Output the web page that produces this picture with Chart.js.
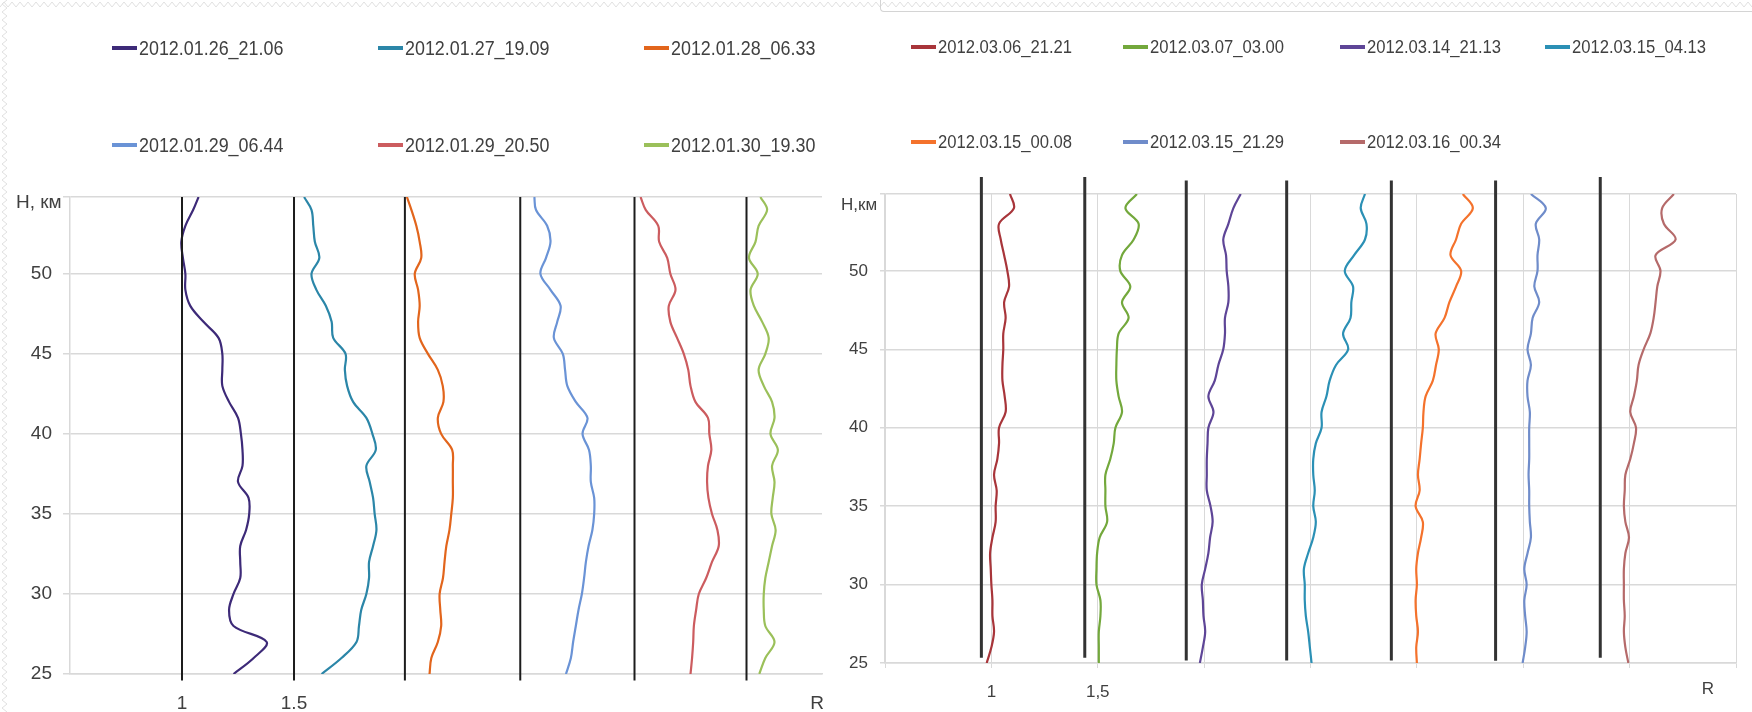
<!DOCTYPE html>
<html>
<head>
<meta charset="utf-8">
<title>R(H) profiles</title>
<script src="https://cdn.jsdelivr.net/npm/chart.js@4.4.1/dist/chart.umd.min.js"></script>
<style>
  html, body { margin: 0; padding: 0; background: #fff; }
  body {
    width: 1752px; height: 712px; position: relative; overflow: hidden;
    font-family: "Liberation Sans", Arial, sans-serif;
    color: #404040;
  }
  .hatch-top {
    position: absolute; left: 0; top: 0; width: 1752px; height: 9px;
    background-image: url("data:image/svg+xml;utf8,<svg xmlns='http://www.w3.org/2000/svg' width='8' height='9'><path d='M0 7 L4 2 L8 7' fill='none' stroke='%23e0e0e0' stroke-width='1'/></svg>");
  }
  .hatch-left {
    position: absolute; left: 0; top: 0; width: 8px; height: 712px;
    background-image: url("data:image/svg+xml;utf8,<svg xmlns='http://www.w3.org/2000/svg' width='8' height='8'><path d='M7 0 L2 4 L7 8' fill='none' stroke='%23e0e0e0' stroke-width='1'/></svg>");
  }
  .frame {
    position: absolute; left: 880px; top: -4px; width: 880px; height: 15px;
    border-left: 1px solid #d4d4d4; border-bottom: 1px solid #d4d4d4;
    border-bottom-left-radius: 4px;
  }
  .wrap { position: absolute; top: 0; }
  .legend { position: absolute; display: grid; }
  .legend .item { display: flex; align-items: center; height: 24px; white-space: nowrap; }
  .legend .sw { display: inline-block; width: 25px; height: 4px; margin-right: 2px; flex: none; }
  .legend .tx { display: inline-block; transform-origin: left center; }
  #legJan { left: 112px; top: 36px; grid-template-columns: 266px 266px 266px; grid-auto-rows: 97px; font-size: 20px; }
  #legJan .tx { transform: scaleX(0.895); }
  #legMar { left: 911px; top: 35px; grid-template-columns: 212px 217px 205px 200px; grid-auto-rows: 95px; font-size: 19px; }
  #legMar .tx { transform: scaleX(0.875); }
</style>
</head>
<body>
<div class="hatch-top"></div>
<div class="hatch-left"></div>
<div class="frame"></div>
<div class="wrap" style="left:0px;"><canvas id="chartJan" width="830" height="712"></canvas></div>
<div class="wrap" style="left:830px;"><canvas id="chartMar" width="922" height="712"></canvas></div>
<div class="legend" id="legJan"></div>
<div class="legend" id="legMar"></div>

<script>
// ---- heights, km ----
const heightsJan = [25,26,27,28,29,30,31,32,33,34,35,36,37,38,39,40,41,42,43,44,45,46,47,48,49,50,51,52,53,54,54.8];
const heightsMar = [25,26,27,28,29,30,31,32,33,34,35,36,37,38,39,40,41,42,43,44,45,46,47,48,49,50,51,52,53,54,54.9];

// ---- January profiles (each shifted right by its own reference line) ----
const jan26_2106 = [1.23,1.32,1.378,1.23,1.21,1.23,1.26,1.26,1.26,1.286,1.30,1.297,1.25,1.27,1.27,1.263,1.25,1.21,1.18,1.18,1.18,1.163,1.096,1.037,1.015,1.015,1.004,0.997,1.015,1.05,1.074];
const jan27_1909 = [1.623,1.712,1.779,1.79,1.80,1.823,1.835,1.835,1.853,1.868,1.86,1.853,1.838,1.823,1.865,1.85,1.823,1.764,1.737,1.727,1.73,1.675,1.668,1.642,1.60,1.578,1.613,1.593,1.586,1.578,1.545];
const jan28_0633 = [2.105,2.113,2.142,2.157,2.153,2.15,2.165,2.172,2.18,2.194,2.202,2.209,2.209,2.209,2.206,2.157,2.142,2.167,2.164,2.142,2.098,2.061,2.054,2.061,2.054,2.039,2.068,2.061,2.046,2.024,2.004];
const jan29_0644 = [2.714,2.736,2.746,2.758,2.77,2.785,2.795,2.803,2.815,2.832,2.84,2.84,2.825,2.825,2.817,2.788,2.81,2.758,2.72,2.71,2.70,2.66,2.675,2.69,2.645,2.60,2.625,2.645,2.63,2.58,2.573];
const jan29_2050 = [3.27,3.277,3.282,3.285,3.295,3.307,3.34,3.366,3.396,3.39,3.366,3.35,3.344,3.348,3.363,3.354,3.348,3.292,3.27,3.26,3.24,3.21,3.18,3.173,3.203,3.18,3.166,3.13,3.126,3.07,3.047];
const jan30_1930 = [3.577,3.604,3.645,3.604,3.597,3.597,3.604,3.619,3.634,3.65,3.631,3.637,3.645,3.634,3.66,3.627,3.645,3.634,3.597,3.574,3.604,3.619,3.59,3.553,3.538,3.57,3.531,3.56,3.574,3.612,3.582];

// ---- March profiles ----
const mar06_2121 = [0.978,1.0,1.0125,1.005,1.005,1.0,0.997,0.994,1.005,1.02,1.02,1.025,1.0125,1.028,1.036,1.036,1.067,1.0625,1.052,1.052,1.056,1.056,1.067,1.06,1.083,1.075,1.06,1.044,1.036,1.106,1.0875];
const mar07_0300 = [1.505,1.505,1.505,1.5125,1.5125,1.494,1.494,1.497,1.509,1.544,1.536,1.536,1.536,1.559,1.575,1.583,1.614,1.598,1.5875,1.5875,1.59,1.598,1.645,1.614,1.653,1.606,1.614,1.669,1.692,1.63,1.684];
const mar14_2113 = [1.98,1.994,2.005,1.997,1.994,1.989,2.005,2.02,2.028,2.04,2.03,2.0125,2.0125,2.0125,2.016,2.02,2.044,2.02,2.05,2.067,2.09,2.098,2.098,2.114,2.114,2.106,2.103,2.09,2.114,2.1375,2.172];
const mar15_0413 = [2.505,2.497,2.489,2.478,2.473,2.473,2.469,2.489,2.513,2.525,2.513,2.52,2.513,2.513,2.525,2.552,2.552,2.575,2.59,2.62,2.677,2.653,2.688,2.692,2.70,2.661,2.705,2.756,2.763,2.736,2.756];
const mar15_0008 = [3.0,2.997,3.005,2.997,2.994,3.0,2.997,3.005,3.02,3.028,2.994,3.013,3.005,3.013,3.02,3.028,3.031,3.041,3.075,3.09,3.103,3.088,3.13,3.153,3.184,3.208,3.158,3.184,3.208,3.263,3.216];
const mar15_2129 = [3.497,3.509,3.516,3.509,3.505,3.516,3.505,3.52,3.536,3.531,3.528,3.528,3.525,3.528,3.528,3.528,3.531,3.52,3.52,3.536,3.52,3.536,3.544,3.575,3.552,3.567,3.567,3.575,3.559,3.606,3.536];
const mar16_0034 = [3.994,3.98,3.973,3.977,3.973,3.973,3.973,3.98,3.997,3.98,3.973,3.977,3.98,4.003,4.02,4.03,4.003,4.02,4.034,4.042,4.066,4.097,4.113,4.122,4.13,4.145,4.122,4.216,4.161,4.153,4.208];

// ---- series labels ----
const janNames = ['2012.01.26_21.06','2012.01.27_19.09','2012.01.28_06.33','2012.01.29_06.44','2012.01.29_20.50','2012.01.30_19.30'];
const marNames = ['2012.03.06_21.21','2012.03.07_03.00','2012.03.14_21.13','2012.03.15_04.13','2012.03.15_00.08','2012.03.15_21.29','2012.03.16_00.34'];
const janSeries = [jan26_2106, jan27_1909, jan28_0633, jan29_0644, jan29_2050, jan30_1930];
const marSeries = [mar06_2121, mar07_0300, mar14_2113, mar15_0413, mar15_0008, mar15_2129, mar16_0034];

// ---- reference (R = 1 per profile) lines ----
const janGuideR = [1, 1.5, 1.995, 2.51, 3.02, 3.52];
const janGuideBottom = [24.6, 24.6, 24.6, 24.6, 24.6, 24.6];
const janGuideTop = [54.8, 54.8, 54.8, 54.8, 54.8, 54.8];
const marGuideR = [0.953, 1.439, 1.916, 2.388, 2.880, 3.370, 3.862];
const marGuideBottom = [25.33, 25.33, 25.16, 25.16, 25.16, 25.14, 25.33];
const marGuideTop = [55.98, 55.98, 55.76, 55.76, 55.76, 55.76, 55.98];

// ---- axis tick labels ----
const janTickLabels = { 1: '1', 1.5: '1.5' };
const marTickLabels = { 1: '1', 1.5: '1,5' };

// ---- styles ----
const janColors = ['#3d2a78', '#2b86a8', '#e2651c', '#6a93d6', '#cc5c5f', '#9bc05a'];
const marColors = ['#a8353a', '#73a83c', '#5e4597', '#2b90b5', '#f4722c', '#6f8cca', '#b56a6a'];
const FONT = '"Liberation Sans", Arial, sans-serif';
const GRID = '#d9d9d9';

Chart.defaults.font.family = FONT;
Chart.defaults.color = '#404040';

function profileDatasets(series, names, colors, heights) {
  return series.map((vals, i) => ({
    label: names[i],
    data: vals.map((r, k) => ({ x: r, y: heights[k] })),
    borderColor: colors[i],
    backgroundColor: colors[i],
    borderWidth: 2.2,
    pointRadius: 0,
    showLine: true,
    tension: 0.35,
    order: 2
  }));
}

function guideDatasets(xs, bottoms, tops, color, width) {
  return xs.map((x, i) => ({
    label: '',
    data: [{ x: x, y: bottoms[i] }, { x: x, y: tops[i] }],
    borderColor: color,
    borderWidth: width,
    pointRadius: 0,
    showLine: true,
    clip: false,
    order: 1
  }));
}

// Axis captions "H, км" and "R" placed at the plot corners
const cornerTitles = {
  id: 'cornerTitles',
  afterDraw(chart, args, o) {
    const a = chart.chartArea, ctx = chart.ctx;
    ctx.save();
    ctx.fillStyle = '#404040';
    ctx.font = o.size + 'px ' + FONT;
    ctx.textBaseline = 'middle';
    ctx.textAlign = 'left';
    ctx.fillText(o.yTitle, a.left + o.yDx, a.top + o.yDy);
    ctx.textAlign = 'center';
    ctx.fillText(o.xTitle, a.right + o.xDx, a.bottom + o.xDy);
    ctx.restore();
  }
};

function makeChart(id, cfg) {
  return new Chart(document.getElementById(id), {
    type: 'scatter',
    data: { datasets: cfg.datasets },
    plugins: [cornerTitles],
    options: {
      responsive: false,
      animation: false,
      devicePixelRatio: 1,
      layout: { padding: cfg.padding },
      plugins: {
        legend: { display: false },
        tooltip: { enabled: false },
        cornerTitles: cfg.titles
      },
      scales: {
        x: {
          type: 'linear',
          min: cfg.xMin, max: cfg.xMax,
          afterFit: s => { s.height = cfg.xAxisHeight; },
          ticks: {
            stepSize: 0.5, autoSkip: false, includeBounds: false, maxRotation: 0,
            padding: cfg.xTickPad,
            font: { size: cfg.tickSize },
            callback: v => cfg.tickLabels[v] || ''
          },
          grid: cfg.xGrid,
          border: { display: true, color: GRID, width: 1.5 }
        },
        y: {
          type: 'linear',
          min: 25, max: cfg.yMax,
          afterFit: s => { s.width = cfg.yAxisWidth; },
          ticks: {
            stepSize: 5, includeBounds: true, padding: cfg.yTickPad,
            font: { size: cfg.tickSize },
            callback: v => (v % 5 === 0 ? String(v) : '')
          },
          grid: { color: GRID, lineWidth: 1.5, tickLength: cfg.yTickLen },
          border: { display: true, color: GRID, width: 1.5 }
        }
      }
    }
  });
}

makeChart('chartJan', {
  datasets: guideDatasets(janGuideR, janGuideBottom, janGuideTop, '#1c1c1c', 2)
    .concat(profileDatasets(janSeries, janNames, janColors, heightsJan)),
  padding: { top: 197, right: 8, left: 0, bottom: 0 },
  xMin: 0.5, xMax: 3.857, yMax: 54.8,
  xAxisHeight: 38, yAxisWidth: 70,
  xTickPad: 10, yTickPad: 11, yTickLen: 7, tickSize: 19,
  xGrid: { display: false },
  tickLabels: janTickLabels,
  titles: { yTitle: 'H, км', yDx: -54, yDy: 6, xTitle: 'R', xDx: -5, xDy: 30, size: 19 }
});

makeChart('chartMar', {
  datasets: guideDatasets(marGuideR, marGuideBottom, marGuideTop, '#333333', 3)
    .concat(profileDatasets(marSeries, marNames, marColors, heightsMar)),
  padding: { top: 194, right: 16, left: 0, bottom: 0 },
  xMin: 0.5, xMax: 4.5, yMax: 54.9,
  xAxisHeight: 49, yAxisWidth: 55,
  xTickPad: 14, yTickPad: 12, yTickLen: 5, tickSize: 17,
  xGrid: { color: GRID, lineWidth: 1, tickLength: 5 },
  tickLabels: marTickLabels,
  titles: { yTitle: 'H,км', yDx: -44, yDy: 11, xTitle: 'R', xDx: -28, xDy: 26, size: 17 }
});

// Legends listing every profile with its line colour
function buildLegend(el, names, colors) {
  names.forEach((n, i) => {
    const item = document.createElement('div');
    item.className = 'item';
    const sw = document.createElement('span');
    sw.className = 'sw';
    sw.style.background = colors[i];
    const tx = document.createElement('span');
    tx.className = 'tx';
    tx.textContent = n;
    item.appendChild(sw);
    item.appendChild(tx);
    el.appendChild(item);
  });
}
buildLegend(document.getElementById('legJan'), janNames, janColors);
buildLegend(document.getElementById('legMar'), marNames, marColors);
</script>
</body>
</html>
